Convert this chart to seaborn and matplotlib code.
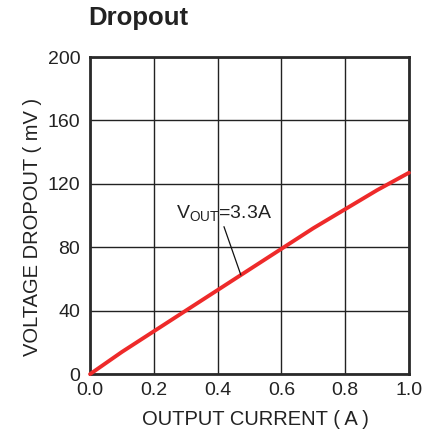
import matplotlib
matplotlib.use("Agg")
import matplotlib.pyplot as plt
import seaborn as sns
import pandas as pd

# data
current_a = [0.0, 0.1, 0.2, 0.3, 0.4, 0.5, 0.6, 0.7, 0.8, 0.9, 1.0]
dropout_mv = [0, 14, 27, 40, 53, 66, 79, 92, 104, 116, 127]
x_ticks = [0.0, 0.2, 0.4, 0.6, 0.8, 1.0]
y_ticks = [0, 40, 80, 120, 160, 200]

sns.set_style("white")
plt.rcParams['font.family'] = ['Liberation Sans', 'DejaVu Sans']
plt.rcParams['mathtext.fontset'] = 'custom'
plt.rcParams['mathtext.rm'] = 'Liberation Sans'
txt = "#222222"

df = pd.DataFrame({"current": current_a, "dropout": dropout_mv})

fig = plt.figure(figsize=(4.35, 4.32), dpi=100)
ax = fig.add_axes([0.207, 0.134, 0.733, 0.734])

sns.lineplot(data=df, x="current", y="dropout", ax=ax, color="#ee2a2a", linewidth=2.8,
             zorder=3, clip_on=False)

ax.set_xlim(0, 1.0)
ax.set_ylim(0, 200)
ax.set_xticks(x_ticks)
ax.set_yticks(y_ticks)
ax.set_xticklabels([f"{v:.1f}" for v in x_ticks])
ax.grid(True, color="#222222", linewidth=1.0)
ax.tick_params(length=0, labelsize=14, colors=txt)
ax.tick_params(axis="y", pad=7)
ax.tick_params(axis="x", pad=6)
for s in ax.spines.values():
    s.set_color("#2a2a2a")
    s.set_linewidth(2.0)

ax.set_xlabel("OUTPUT CURRENT ( A )", fontsize=14.5, color=txt)
ax.set_ylabel("VOLTAGE DROPOUT ( mV )", fontsize=14.5, color=txt)
ax.xaxis.set_label_coords(0.52, -0.112)
ax.yaxis.set_label_coords(-0.15, 0.465)
fig.text(0.202, 0.958, "Dropout", fontsize=18.5, fontweight="bold", color=txt, va="center")

ax.text(0.27, 101, r"V$_{\mathregular{OUT}}$=3.3A", fontsize=14, color=txt, va="center")
ax.plot([0.42, 0.473], [93, 62.5], color="#111111", linewidth=0.9, zorder=4)

fig.savefig("out.png", dpi=100)
